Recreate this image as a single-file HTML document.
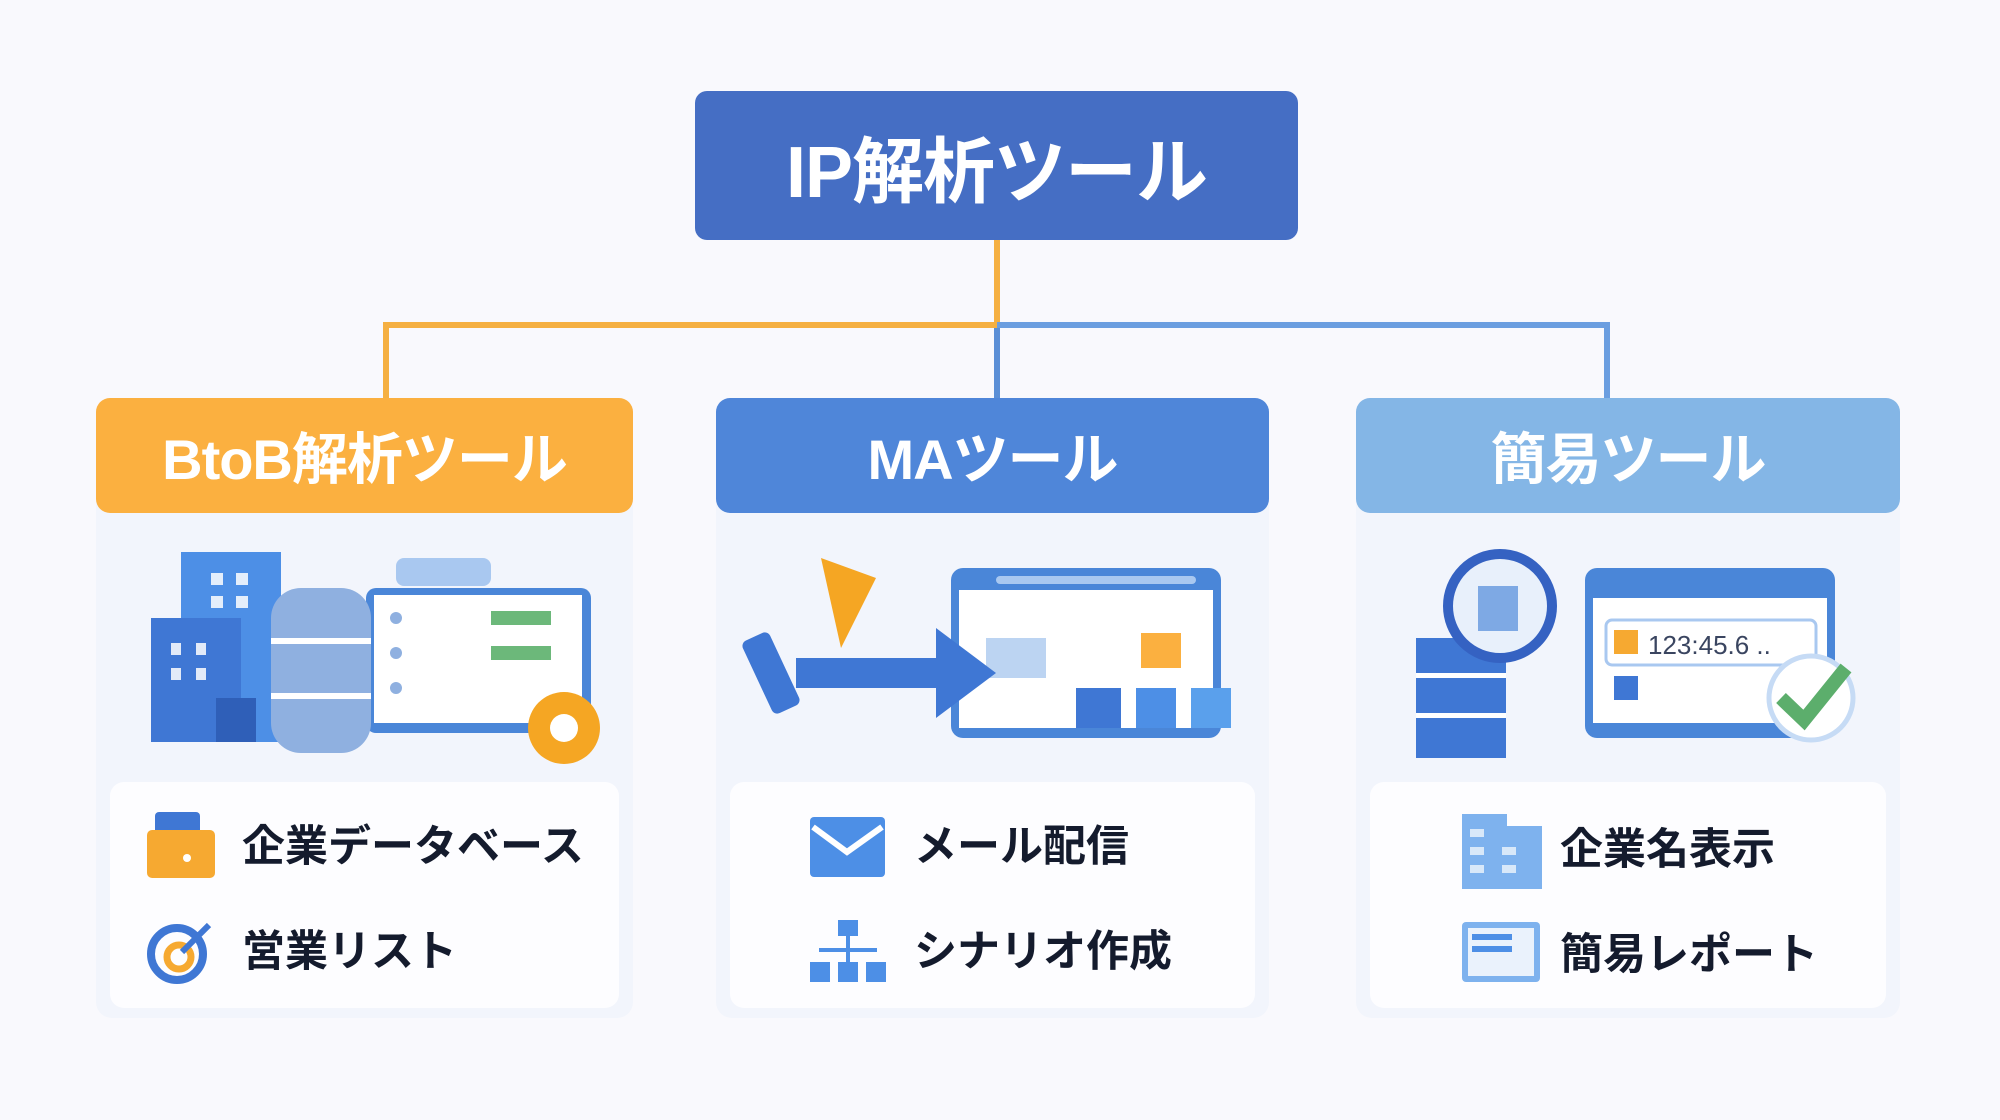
<!DOCTYPE html>
<html><head><meta charset="utf-8"><style>
*{margin:0;padding:0;box-sizing:border-box}
body{width:2000px;height:1120px;background:#f9f9fd;position:relative;overflow:hidden;font-family:"Liberation Sans","Noto Sans CJK JP",sans-serif}
.a{position:absolute}
.top{left:695px;top:91px;width:603px;height:149px;background:#456ec4;border-radius:12px;color:#fff;font-weight:bold;font-size:72px;display:flex;align-items:center;justify-content:center;letter-spacing:-1px}
.card{position:absolute;top:398px;height:620px;background:#f2f5fc;border-radius:16px}
.hdr{position:absolute;left:0;top:0;right:0;height:115px;border-radius:14px;color:#fff;font-weight:bold;font-size:56px;display:flex;align-items:center;justify-content:center;letter-spacing:-1px}
.inner{position:absolute;left:14px;right:14px;top:384px;height:226px;background:#fdfdff;border-radius:14px}
.it{position:absolute;font-size:43px;font-weight:bold;color:#141b2d;line-height:50px}
.ln{position:absolute;background:#f5b042}
.lb{position:absolute;background:#5b8fd6}
</style></head><body>
<div class="a top">IP解析ツール</div>
<div class="ln" style="left:994px;top:240px;width:6px;height:88px"></div>
<div class="ln" style="left:383px;top:322px;width:617px;height:6px"></div>
<div class="ln" style="left:383px;top:322px;width:6px;height:78px"></div>
<div class="lb" style="left:997px;top:322px;width:613px;height:6px;background:#6b9ee0"></div>
<div class="lb" style="left:994px;top:328px;width:6px;height:72px"></div>
<div class="lb" style="left:1604px;top:322px;width:6px;height:78px;background:#6b9ee0"></div>

<div class="card" style="left:96px;width:537px">
 <div class="hdr" style="background:#fbb040">BtoB解析ツール</div>
 <svg class="a" style="left:0;top:150px" width="537" height="230">
  <rect x="85" y="4" width="100" height="190" fill="#4d8fe6"/>
  <rect x="55" y="70" width="90" height="124" fill="#3f77d4"/>
  <rect x="120" y="150" width="40" height="44" fill="#2f5fb8"/>
  <g fill="#fff" opacity=".85"><rect x="115" y="25" width="12" height="12"/><rect x="140" y="25" width="12" height="12"/><rect x="115" y="48" width="12" height="12"/><rect x="140" y="48" width="12" height="12"/><rect x="75" y="95" width="10" height="12"/><rect x="100" y="95" width="10" height="12"/><rect x="75" y="120" width="10" height="12"/><rect x="100" y="120" width="10" height="12"/></g>
  <rect x="270" y="40" width="225" height="145" rx="10" fill="#4a86d8"/>
  <rect x="278" y="47" width="208" height="128" fill="#fff"/>
  <g fill="#8fb0e0"><circle cx="300" cy="70" r="6"/><circle cx="300" cy="105" r="6"/><circle cx="300" cy="140" r="6"/></g>
  <rect x="395" y="63" width="60" height="14" fill="#6cb87a"/><rect x="395" y="98" width="60" height="14" fill="#6cb87a"/>
  <rect x="175" y="40" width="100" height="165" rx="30" fill="#8fb0e0"/>
  <rect x="175" y="90" width="100" height="6" fill="#fff"/><rect x="175" y="145" width="100" height="6" fill="#fff"/>
  <rect x="300" y="10" width="95" height="28" rx="8" fill="#a9c8f0"/>
  <circle cx="468" cy="180" r="36" fill="#f5a623"/><circle cx="468" cy="180" r="14" fill="#fff"/>
 </svg>
 <div class="inner">
  <svg class="a" style="left:37px;top:30px" width="70" height="70"><rect x="8" y="0" width="45" height="25" rx="4" fill="#3f77d4"/><rect x="0" y="18" width="68" height="48" rx="5" fill="#f6a931"/><circle cx="40" cy="46" r="4" fill="#fff"/></svg>
  <div class="it" style="left:132px;top:40px">企業データベース</div>
  <svg class="a" style="left:37px;top:135px" width="70" height="70"><circle cx="30" cy="37" r="26" fill="none" stroke="#3f77d4" stroke-width="8"/><circle cx="32" cy="40" r="12" fill="none" stroke="#f6a931" stroke-width="7"/><path d="M35 35 L62 8" stroke="#3f77d4" stroke-width="6"/></svg>
  <div class="it" style="left:132px;top:145px">営業リスト</div>
 </div>
</div>

<div class="card" style="left:716px;width:553px">
 <div class="hdr" style="background:#4f86d9">MAツール</div>
 <svg class="a" style="left:0;top:150px" width="553" height="230">
  <rect x="235" y="20" width="270" height="170" rx="12" fill="#4a86d8"/>
  <rect x="243" y="42" width="254" height="138" fill="#fff"/>
  <rect x="280" y="28" width="200" height="8" rx="4" fill="#a9c8f0"/>
  <rect x="270" y="90" width="60" height="40" fill="#bcd4f2"/><rect x="425" y="85" width="40" height="35" fill="#fbb040"/>
  <rect x="360" y="140" width="45" height="40" fill="#3f77d4"/><rect x="420" y="140" width="40" height="40" fill="#4d8fe6"/><rect x="475" y="140" width="40" height="40" fill="#5aa0ec"/>
  <path d="M80 110 L220 110 L220 80 L280 125 L220 170 L220 140 L80 140 Z" fill="#3f77d4"/>
  <rect x="40" y="85" width="30" height="80" rx="6" fill="#3f77d4" transform="rotate(-25 55 125)"/>
  <path d="M105 10 L160 30 L125 100 Z" fill="#f5a623"/>
 </svg>
 <div class="inner">
  <svg class="a" style="left:80px;top:35px" width="80" height="65"><rect x="0" y="0" width="75" height="60" rx="4" fill="#4d8fe6"/><path d="M3 10 L37 35 L72 10" stroke="#fff" stroke-width="6" fill="none"/></svg>
  <div class="it" style="left:184px;top:40px">メール配信</div>
  <svg class="a" style="left:80px;top:138px" width="80" height="65"><g fill="#4d8fe6"><rect x="28" y="0" width="20" height="16"/><rect x="0" y="42" width="20" height="20"/><rect x="28" y="42" width="20" height="20"/><rect x="56" y="42" width="20" height="20"/><rect x="36" y="16" width="4" height="26"/><rect x="9" y="28" width="58" height="4"/></g></svg>
  <div class="it" style="left:184px;top:145px">シナリオ作成</div>
 </div>
</div>

<div class="card" style="left:1356px;width:544px">
 <div class="hdr" style="background:#84b6e6">簡易ツール</div>
 <svg class="a" style="left:0;top:150px" width="544" height="230">
  <rect x="229" y="20" width="250" height="170" rx="12" fill="#4a86d8"/>
  <rect x="237" y="50" width="234" height="125" fill="#fff"/>
  <rect x="250" y="72" width="210" height="45" rx="6" fill="#fff" stroke="#a9c8f0" stroke-width="3"/>
  <rect x="258" y="82" width="24" height="24" fill="#f6a931"/>
  <text x="292" y="106" font-family="Liberation Sans" font-size="26" fill="#3a4560">123:45.6 ..</text>
  <rect x="258" y="128" width="24" height="24" fill="#3f77d4"/>
  <rect x="60" y="90" width="90" height="120" fill="#3f77d4"/>
  <rect x="60" y="125" width="90" height="5" fill="#fff"/><rect x="60" y="165" width="90" height="5" fill="#fff"/>
  <circle cx="144" cy="58" r="52" fill="#e8f0fb" stroke="#3562c2" stroke-width="10"/>
  <rect x="122" y="38" width="40" height="45" fill="#7ea9e4"/>
  <circle cx="455" cy="150" r="42" fill="#fff" stroke="#c6dbf5" stroke-width="5"/>
  <path d="M425 150 L448 172 L490 120" stroke="#5cae6c" stroke-width="14" fill="none"/>
 </svg>
 <div class="inner">
  <svg class="a" style="left:92px;top:32px" width="85" height="75"><path d="M0 0 H45 V12 H80 V75 H0Z" fill="#7eb2ee"/><g fill="#fff" opacity=".7"><rect x="8" y="15" width="14" height="8"/><rect x="8" y="33" width="14" height="8"/><rect x="8" y="51" width="14" height="8"/><rect x="40" y="33" width="14" height="8"/><rect x="40" y="51" width="14" height="8"/></g></svg>
  <div class="it" style="left:190px;top:43px">企業名表示</div>
  <svg class="a" style="left:92px;top:140px" width="85" height="65"><rect x="0" y="0" width="78" height="60" rx="4" fill="#7eb2ee"/><rect x="6" y="6" width="66" height="48" fill="#eaf2fc"/><rect x="10" y="12" width="40" height="6" fill="#4d8fe6"/><rect x="10" y="24" width="40" height="6" fill="#4d8fe6"/></svg>
  <div class="it" style="left:190px;top:148px">簡易レポート</div>
 </div>
</div>
</body></html>
